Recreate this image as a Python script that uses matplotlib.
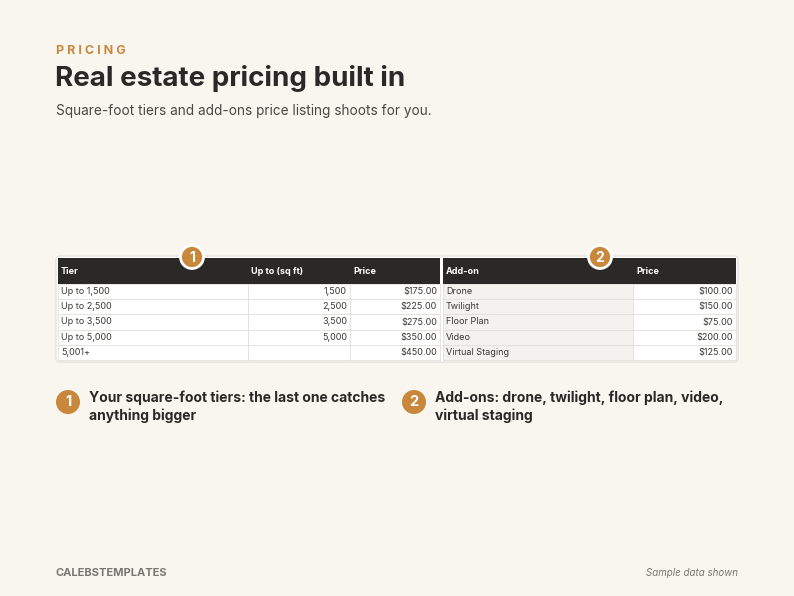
import matplotlib
matplotlib.use("Agg")
import matplotlib.pyplot as plt
from matplotlib.patches import Rectangle, Circle, FancyBboxPatch

plt.rcParams['font.family'] = ['Inter', 'DejaVu Sans']

tiers = ["Up to 1,500", "Up to 2,500", "Up to 3,500", "Up to 5,000", "5,001+"]
upto = ["1,500", "2,500", "3,500", "5,000", ""]
tier_prices = [175, 225, 275, 350, 450]
addons = ["Drone", "Twilight", "Floor Plan", "Video", "Virtual Staging"]
addon_prices = [100, 150, 75, 200, 125]

BG = "#f9f6f0"; DARK = "#2a2927"; ORANGE = "#c8873a"; GRID = "#e2e0dc"
fig = plt.figure(figsize=(7.94, 5.96), dpi=100, facecolor=BG)
ax = fig.add_axes([0, 0, 1, 1]); ax.set_xlim(0, 794); ax.set_ylim(596, 0); ax.axis('off')

ax.text(56, 51, "P R I C I N G", color=ORANGE, fontsize=9, fontweight='bold', va='center')
ax.text(55, 79, "Real estate pricing built in", color=DARK, fontsize=20, fontweight='bold', va='center')
ax.text(56, 111, "Square-foot tiers and add-ons price listing shoots for you.", color="#4a4845", fontsize=9.8, va='center')

ax.add_patch(FancyBboxPatch((57, 257), 680, 104, boxstyle="round,pad=1,rounding_size=3",
                            fc="#ffffff", ec="#e6e3de", lw=1, zorder=1))
hy, hh, rh = 258, 26, 15.2

def table(cols, headers, rows, aligns, shade_first):
    x0, x1 = cols[0], cols[-1]
    ax.add_patch(Rectangle((x0, hy), x1 - x0, hh, fc=DARK, ec='none', zorder=2))
    for i, h in enumerate(headers):
        ax.text(cols[i] + 3, hy + hh / 2 + 1, h, color='white', fontsize=6.5, fontweight='bold', va='center', zorder=3)
    for r, row in enumerate(rows):
        y = hy + hh + r * rh
        for c, val in enumerate(row):
            fc = "#f3f2ef" if (shade_first and c == 0) else "white"
            ax.add_patch(Rectangle((cols[c], y), cols[c + 1] - cols[c], rh, fc=fc, ec=GRID, lw=0.6, zorder=2))
            if aligns[c] == 'left':
                ax.text(cols[c] + 3, y + rh / 2, val, fontsize=6.5, color="#3a3936", va='center', zorder=3)
            else:
                ax.text(cols[c + 1] - 3, y + rh / 2, val, fontsize=6.5, color="#3a3936", va='center', ha='right', zorder=3)

table([58, 248, 350, 440], ["Tier", "Up to (sq ft)", "Price"],
      [[t, u, f"${p:.2f}"] for t, u, p in zip(tiers, upto, tier_prices)], ['left', 'right', 'right'], False)
table([443, 633, 736], ["Add-on", "Price"],
      [[a, f"${p:.2f}"] for a, p in zip(addons, addon_prices)], ['left', 'right'], True)

def badge(x, y, n, r=11.5, fs=10, ec='white'):
    ax.add_patch(Circle((x, y), r, fc=ORANGE, ec=ec, lw=2, zorder=5))
    ax.text(x, y + 0.5, str(n), color='white', fontsize=fs, fontweight='bold', ha='center', va='center', zorder=6)

badge(192, 257, 1); badge(600, 257, 2)
badge(68, 402, 1, r=12, fs=10.5, ec='none'); badge(414, 402, 2, r=12, fs=10.5, ec='none')
ax.text(89, 407, "Your square-foot tiers: the last one catches\nanything bigger", fontsize=10,
        fontweight='bold', color=DARK, va='center', linespacing=1.3)
ax.text(435, 407, "Add-ons: drone, twilight, floor plan, video,\nvirtual staging", fontsize=10,
        fontweight='bold', color=DARK, va='center', linespacing=1.3)

ax.text(56, 573, "CALEBSTEMPLATES", fontsize=8, fontweight='bold', color="#7a7874", va='center')
ax.text(738, 573, "Sample data shown", fontsize=7, style='italic', color="#7a7874", va='center', ha='right')

fig.savefig("out.png", dpi=100, facecolor=BG)
